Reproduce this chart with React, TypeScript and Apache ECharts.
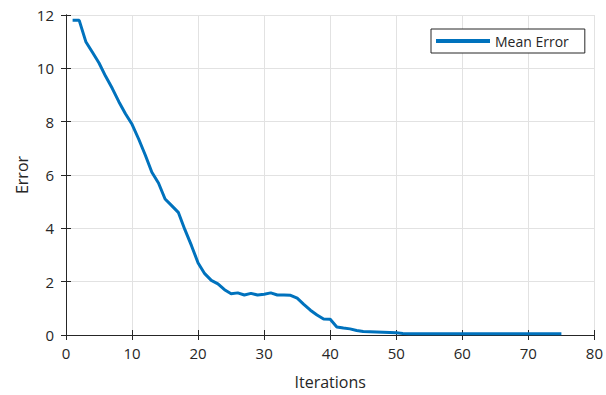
import React, { useEffect, useRef } from "react";
import * as echarts from "echarts";

const iterations: number[] = Array.from({ length: 75 }, (_, i) => i + 1);
const meanError: number[] = [
  11.8, 11.8, 11.0, 10.6, 10.2, 9.7, 9.25, 8.75, 8.3, 7.9,
  7.35, 6.75, 6.1, 5.7, 5.1, 4.85, 4.6, 3.95, 3.35, 2.7,
  2.3, 2.05, 1.92, 1.7, 1.55, 1.58, 1.5, 1.56, 1.5, 1.53,
  1.58, 1.5, 1.5, 1.49, 1.38, 1.15, 0.93, 0.75, 0.6, 0.59,
  0.3, 0.26, 0.23, 0.17, 0.13, 0.12, 0.11, 0.1, 0.09, 0.08,
  0.06, 0.05, 0.05, 0.05, 0.05, 0.05, 0.05, 0.05, 0.05, 0.05,
  0.05, 0.05, 0.05, 0.05, 0.05, 0.05, 0.05, 0.05, 0.05, 0.05,
  0.05, 0.05, 0.05, 0.05, 0.05,
];
const seriesName = "Mean Error";
const xTitle = "Iterations";
const yTitle = "Error";

const FONT = "'Open Sans', 'Noto Sans', sans-serif";
const AX = "#262626";

export default function App() {
  const ref = useRef<HTMLDivElement>(null);
  useEffect(() => {
    if (!ref.current) return;
    const chart = echarts.init(ref.current, undefined, { renderer: "svg" });
    const hiddenAxisCommon = {
      axisLine: { show: true, lineStyle: { color: AX, width: 1 } },
      axisTick: { show: true, inside: true, length: 5, lineStyle: { color: AX } },
      axisLabel: { show: false },
      splitLine: { show: false },
    };
    chart.setOption({
      animation: false,
      backgroundColor: "#ffffff",
      textStyle: { fontFamily: FONT },
      grid: { left: 66, top: 15, width: 532, height: 321, containLabel: false },
      legend: {
        show: true,
        left: 431,
        top: 29,
        orient: "horizontal",
        backgroundColor: "#ffffff",
        borderColor: AX,
        borderWidth: 1,
        borderRadius: 0,
        padding: [5, 16, 5, 5],
        itemWidth: 54,
        itemHeight: 4,
        itemGap: 5,
        icon: "rect",
        textStyle: { fontFamily: FONT, fontSize: 14, color: AX, padding: [0, 0, 0, 0] },
        data: [{ name: seriesName, icon: "rect" }],
      },
      xAxis: [
        {
          type: "value",
          min: 0,
          max: 80,
          interval: 10,
          position: "bottom",
          name: xTitle,
          nameLocation: "middle",
          nameGap: 39,
          nameMoveOverlap: false,
          nameTextStyle: { fontFamily: FONT, fontSize: 16, color: AX },
          axisLine: { show: true, onZero: false, lineStyle: { color: AX, width: 1 } },
          axisTick: { show: true, inside: true, length: 5, lineStyle: { color: AX } },
          axisLabel: { show: true, fontFamily: FONT, fontSize: 15, color: AX, margin: 10 },
          splitLine: { show: true, lineStyle: { color: "#e2e2e2", width: 1 } },
        },
        {
          type: "value",
          min: 0,
          max: 80,
          interval: 10,
          position: "top",
          ...hiddenAxisCommon,
        },
      ],
      yAxis: [
        {
          type: "value",
          min: 0,
          max: 12,
          interval: 2,
          position: "left",
          name: yTitle,
          nameLocation: "middle",
          nameGap: 36,
          nameMoveOverlap: false,
          nameRotate: 90,
          nameTextStyle: { fontFamily: FONT, fontSize: 16, color: AX },
          axisLine: { show: true, onZero: false, lineStyle: { color: AX, width: 1 } },
          axisTick: { show: true, inside: true, length: 5, lineStyle: { color: AX } },
          axisLabel: { show: true, fontFamily: FONT, fontSize: 15, color: AX, margin: 12 },
          splitLine: { show: true, lineStyle: { color: "#e2e2e2", width: 1 } },
        },
        {
          type: "value",
          min: 0,
          max: 12,
          interval: 2,
          position: "right",
          ...hiddenAxisCommon,
        },
      ],
      series: [
        {
          name: seriesName,
          type: "line",
          xAxisIndex: 0,
          yAxisIndex: 0,
          data: iterations.map((x, i) => [x, meanError[i]]),
          showSymbol: false,
          symbol: "none",
          itemStyle: { color: "#0072BD" },
          lineStyle: { color: "#0072BD", width: 3 },
        },
      ],
    });
    return () => chart.dispose();
  }, []);
  return (
    <div
      ref={ref}
      style={{ position: "fixed", left: 0, top: 0, width: 606, height: 395 }}
    />
  );
}
